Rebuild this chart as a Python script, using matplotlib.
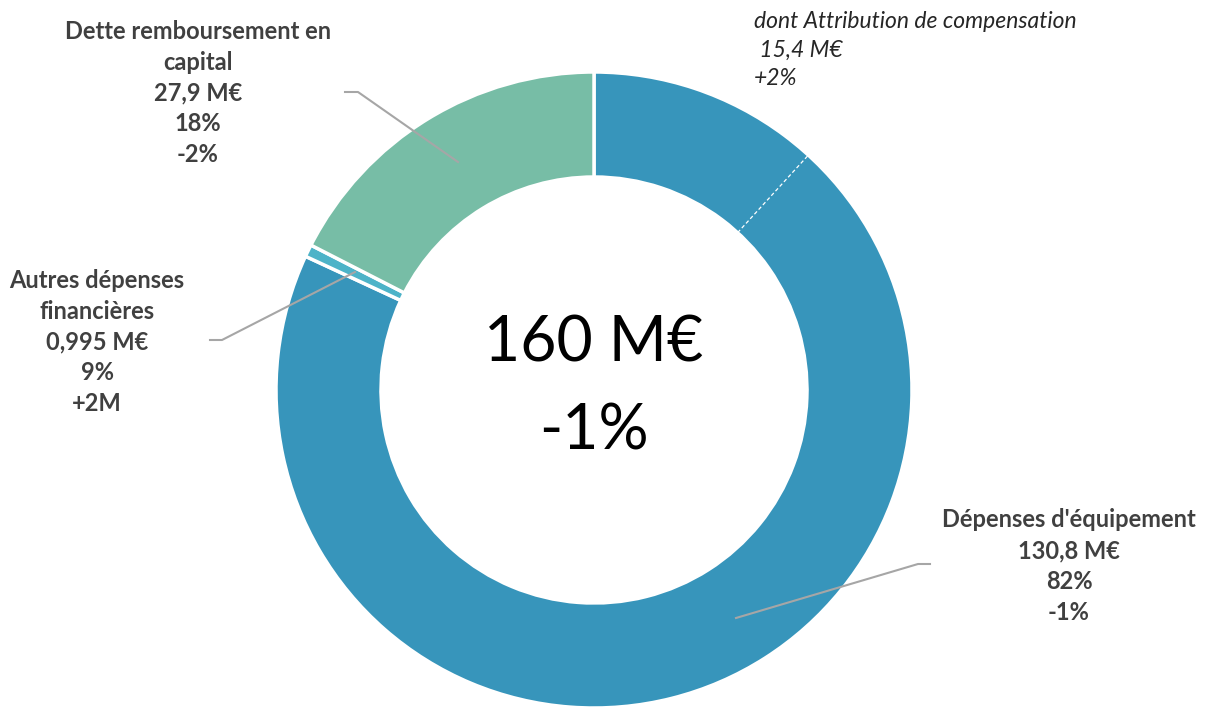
import numpy as np
import matplotlib.pyplot as plt

labels = ["Dépenses d'équipement", "Autres dépenses\nfinancières", "Dette remboursement en\ncapital"]
values = [130.8, 0.995, 27.9]
value_txt = ["130,8 M€", "0,995 M€", "27,9 M€"]
share_txt = ["82%", "9%", "18%"]
evol_txt = ["-1%", "+2M", "-2%"]
colors = ["#3795bb", "#4db3c8", "#77bda6"]

sub_label = "dont Attribution de compensation"
sub_value = 15.4
sub_txt = " 15,4 M€"
sub_evol = "+2%"

total_txt = "160 M€"
total_evol = "-1%"

plt.rcParams['font.family'] = ['Lato', 'DejaVu Sans']

W, H = 1207, 710
fig = plt.figure(figsize=(W / 100, H / 100), dpi=100)
ax = fig.add_axes([0, 0, 1, 1])

cx, cy = 594, H - 390
R, ring = 318, 105

ax.pie(values, colors=colors, startangle=90, counterclock=False,
       center=(cx, cy), radius=R, frame=True,
       wedgeprops=dict(width=ring, edgecolor='white', linewidth=2.5))
ax.set_xlim(0, W)
ax.set_ylim(0, H)
ax.axis('off')

# dashed split inside the équipement wedge
ang = np.pi / 2 - sub_value / values[0] * 2 * np.pi
ax.plot([cx + (R - ring) * np.cos(ang), cx + R * np.cos(ang)],
        [cy + (R - ring) * np.sin(ang), cy + R * np.sin(ang)],
        color='white', lw=0.9, ls=(0, (3, 2)))

txtc = '#404040'
lead = '#a6a6a6'


def label(x, y, lines):
    ax.text(x, H - y, "\n".join(lines), ha='center', va='center', color=txtc,
            fontsize=17, fontweight='bold', linespacing=1.42)


label(1069, 566, [labels[0], value_txt[0], share_txt[0], evol_txt[0]])
label(97, 342, [labels[1], value_txt[1], share_txt[1], evol_txt[1]])
label(198, 93, [labels[2], value_txt[2], share_txt[2], evol_txt[2]])

ax.text(754, H - 50, "\n".join([sub_label, sub_txt, sub_evol]), ha='left', va='center',
        color='#262626', fontsize=16.5, fontstyle='italic', linespacing=1.45)

# leader lines
ax.plot([736, 918, 930], [H - 618, H - 564, H - 564], color=lead, lw=1.5)
ax.plot([210, 222, 355], [H - 340, H - 340, H - 272], color=lead, lw=1.5)
ax.plot([345, 358, 458], [H - 92, H - 92, H - 162], color=lead, lw=1.5)

ax.text(cx, H - 343, total_txt, ha='center', va='center', fontsize=45, color='black')
ax.text(cx, H - 432, total_evol, ha='center', va='center', fontsize=45, color='black')

fig.savefig('out.png', dpi=100)
